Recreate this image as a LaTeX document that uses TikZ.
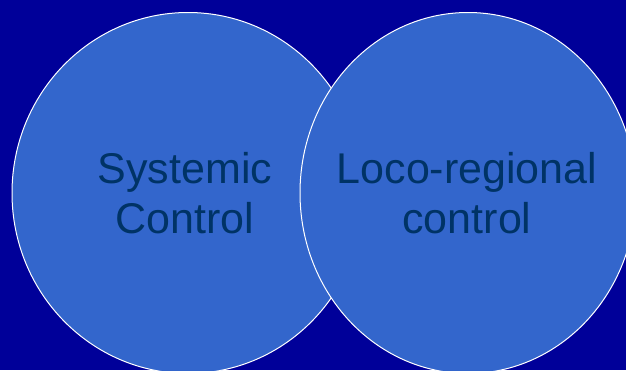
\documentclass[tikz,border=0pt]{standalone}
\usepackage{fontspec}
\setmainfont{Liberation Sans}
\definecolor{bgblue}{HTML}{000099}
\definecolor{fillblue}{HTML}{3366CC}
\definecolor{textblue}{HTML}{003366}
\begin{document}
\begin{tikzpicture}[x=1pt,y=-1pt,
  blob/.style={draw=white, line width=1pt, fill=fillblue},
  lbl/.style={text=textblue, font=\fontsize{43}{50}\selectfont, align=center}]
\useasboundingbox (0,0) rectangle (626,370);
\clip (0,0) rectangle (626,370);
\fill[bgblue] (0,0) rectangle (626,370);
\draw[blob] (188,193) ellipse [x radius=176, y radius=180.5];
\draw[blob] (468,193) ellipse [x radius=168, y radius=180.5];
\node[lbl] (sys) at (185,193) {Systemic\\Control};
\node[lbl] (loco) at (467,193) {Loco-regional\\control};
\end{tikzpicture}
\end{document}
